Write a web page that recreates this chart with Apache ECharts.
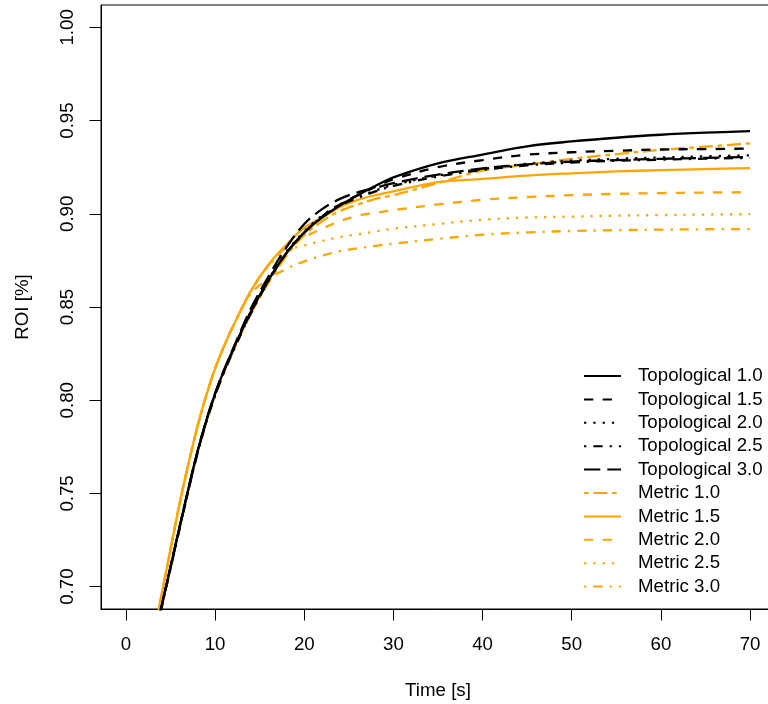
<!DOCTYPE html>
<html>
<head>
<meta charset="utf-8">
<script src="https://cdn.jsdelivr.net/npm/echarts@6/dist/echarts.min.js"></script>
<style>html,body{margin:0;padding:0;background:#fff;}#c{width:768px;height:704px;}</style>
</head>
<body>
<div id="c"></div>
<script>
// ---- data ----
const times = [3,4,5,6,7,8,9,10,11,12,14,16,18,20,22,24,26,28,30,35,40,45,50,55,60,65,70];
const topo10 = [0.669,0.6898,0.7107,0.7317,0.7525,0.772,0.789,0.8035,0.816,0.827,0.8475,0.8646,0.879,0.890,0.898,0.9045,0.910,0.915,0.9195,0.927,0.9318,0.9362,0.9388,0.9408,0.9424,0.9435,0.9443];
const topo15 = [0.6685,0.6893,0.7102,0.7312,0.752,0.7715,0.7885,0.803,0.8155,0.8265,0.847,0.8643,0.8788,0.8898,0.8985,0.905,0.910,0.9145,0.9185,0.925,0.9288,0.9317,0.933,0.9338,0.9345,0.9347,0.935];
const topo20 = [0.6688,0.6896,0.7105,0.7315,0.7523,0.7718,0.7888,0.8033,0.8158,0.8268,0.8475,0.8648,0.8795,0.8905,0.899,0.905,0.909,0.9125,0.9155,0.9205,0.924,0.9268,0.9285,0.9295,0.9302,0.9308,0.9314];
const topo25 = [0.668,0.6888,0.7097,0.7307,0.7515,0.771,0.788,0.8025,0.815,0.826,0.8465,0.864,0.879,0.8898,0.8985,0.9045,0.9085,0.912,0.915,0.920,0.9235,0.926,0.9275,0.9285,0.929,0.9296,0.930];
const topo30 = [0.669,0.6898,0.7107,0.7317,0.7525,0.772,0.789,0.8037,0.8163,0.8275,0.849,0.8665,0.882,0.8945,0.9025,0.908,0.9115,0.914,0.9165,0.921,0.9243,0.9265,0.928,0.9288,0.9295,0.930,0.9305];
const metric10 = [0.668,0.689,0.710,0.731,0.752,0.7712,0.788,0.8025,0.815,0.826,0.8463,0.863,0.8775,0.8885,0.896,0.9015,0.905,0.908,0.910,0.9165,0.9232,0.9263,0.9295,0.932,0.9343,0.936,0.9378];
const metric15 = [0.6713,0.6956,0.720,0.7442,0.7657,0.7855,0.8025,0.817,0.829,0.8395,0.8585,0.8728,0.8835,0.8925,0.898,0.9037,0.9075,0.910,0.912,0.917,0.9187,0.9205,0.9217,0.9227,0.9234,0.924,0.9245];
const metric20 = [0.6713,0.6956,0.720,0.7442,0.7657,0.7855,0.8025,0.817,0.829,0.8395,0.8585,0.8725,0.882,0.8875,0.892,0.896,0.899,0.9005,0.902,0.905,0.9075,0.909,0.910,0.9107,0.9111,0.9114,0.9116];
const metric25 = [0.6713,0.6956,0.720,0.7442,0.7657,0.7855,0.8025,0.817,0.829,0.8395,0.8585,0.872,0.880,0.883,0.8855,0.8875,0.889,0.8905,0.892,0.8945,0.8968,0.898,0.8985,0.899,0.8993,0.8996,0.8998];
const metric30 = [0.6713,0.6956,0.720,0.7442,0.7657,0.7855,0.8025,0.817,0.829,0.8395,0.857,0.865,0.8705,0.8745,0.8775,0.880,0.8815,0.8828,0.884,0.8865,0.8888,0.890,0.8908,0.8912,0.8915,0.8917,0.8918];
const xTicks = [0,10,20,30,40,50,60,70];
const yTicks = [0.70,0.75,0.80,0.85,0.90,0.95,1.00];
const seriesNames = ['Topological 1.0','Topological 1.5','Topological 2.0','Topological 2.5','Topological 3.0','Metric 1.0','Metric 1.5','Metric 2.0','Metric 2.5','Metric 3.0'];

// ---- styles ----
const FONT = 'Liberation Sans, Arial, Helvetica, sans-serif';
const FS = 18.7;
const LW = 2.3;
const dashes = {
  solid: 'solid',
  dashed: [9.3, 9.3],
  dotted: [2.3, 7],
  dotdash: [2.3, 7, 9.3, 7],
  longdash: [16.3, 7],
  twodash: [4.7, 4.7, 14, 4.7]
};
const ORANGE = '#FFA500';

function mk(name, vals, color, type) {
  return {
    name: name,
    type: 'line',
    data: times.map((t, i) => [t, vals[i]]),
    symbol: 'none',
    smooth: 0.35,
    clip: true,
    lineStyle: { color: color, width: LW, type: dashes[type] },
    itemStyle: { color: color },
    emphasis: { disabled: true },
    animation: false
  };
}

const series = [
  mk('Metric 1.0', metric10, ORANGE, 'twodash'),
  mk('Metric 1.5', metric15, ORANGE, 'solid'),
  mk('Metric 2.0', metric20, ORANGE, 'dashed'),
  mk('Metric 2.5', metric25, ORANGE, 'dotted'),
  mk('Metric 3.0', metric30, ORANGE, 'dotdash'),
  mk('Topological 1.0', topo10, '#000', 'solid'),
  mk('Topological 1.5', topo15, '#000', 'dashed'),
  mk('Topological 2.0', topo20, '#000', 'dotted'),
  mk('Topological 2.5', topo25, '#000', 'dotdash'),
  mk('Topological 3.0', topo30, '#000', 'longdash')
];

const chart = echarts.init(document.getElementById('c'), null, { renderer: 'canvas' });
chart.setOption({
  animation: false,
  backgroundColor: '#fff',
  textStyle: { fontFamily: FONT },
  grid: {
    left: 101, right: -7, top: 5, bottom: 95,
    show: true, borderColor: '#000', borderWidth: 1, backgroundColor: 'transparent',
    containLabel: false, outerBoundsMode: 'none'
  },
  legend: {
    data: seriesNames,
    orient: 'vertical',
    left: 583, top: 366.5, padding: 0,
    itemWidth: 37, itemHeight: 14, itemGap: 4.4,
    selectedMode: false,
    itemStyle: { opacity: 0, color: 'transparent', borderWidth: 0 },
    textStyle: { fontSize: FS, color: '#000', fontFamily: FONT, padding: [0, 0, 0, 12] }
  },
  xAxis: {
    type: 'value', min: -2.8, max: 72.8,
    name: 'Time [s]', nameLocation: 'middle', nameGap: 72,
    nameTextStyle: { fontSize: FS, color: '#000', fontFamily: FONT },
    axisLine: { show: true, onZero: false, lineStyle: { color: '#000', width: 1 } },
    axisTick: { show: true, length: 11.5, customValues: xTicks, lineStyle: { color: '#000', width: 1 } },
    axisLabel: { customValues: xTicks, fontSize: FS, color: '#000', fontFamily: FONT, margin: 26 },
    splitLine: { show: false }
  },
  yAxis: {
    type: 'value', min: 0.688, max: 1.012,
    name: 'ROI [%]', nameLocation: 'middle', nameGap: 69, nameRotate: 90,
    nameTextStyle: { fontSize: FS, color: '#000', fontFamily: FONT },
    axisLine: { show: true, onZero: false, lineStyle: { color: '#000', width: 1 } },
    axisTick: { show: true, length: 11.5, customValues: yTicks, lineStyle: { color: '#000', width: 1 } },
    axisLabel: { customValues: yTicks, rotate: 90, fontSize: FS, color: '#000', fontFamily: FONT, margin: 24,
      formatter: v => v.toFixed(2) },
    splitLine: { show: false }
  },
  series: series
});
</script>
</body>
</html>
